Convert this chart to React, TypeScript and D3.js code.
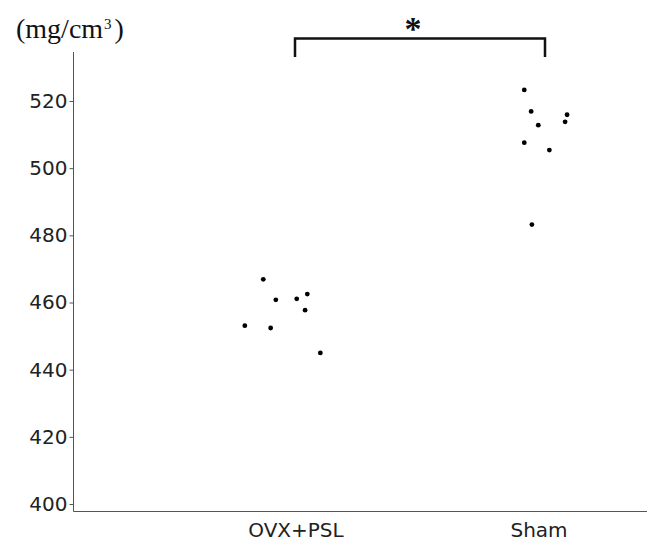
import React, { useEffect, useRef } from 'react';
import * as d3 from 'd3';

// groups and the measured bone density per animal
const groups = ['OVX+PSL', 'Sham'];
const ovxValues = [466.9, 460.8, 461.1, 462.5, 457.7, 453.1, 452.4, 445.0];
const shamValues = [523.3, 516.9, 515.9, 513.8, 512.8, 507.6, 505.4, 483.2];
// horizontal jitter, in fractions of the distance between groups
const ovxJitter = [-0.129, -0.078, 0.007, 0.05, 0.041, -0.204, -0.099, 0.103];
const shamJitter = [-0.068, -0.04, 0.106, 0.098, -0.011, -0.068, 0.034, -0.037];
const yTicks = [400, 420, 440, 460, 480, 500, 520];

const W = 649;
const H = 541;

const App = () => {
  const svgRef = useRef<SVGSVGElement>(null);

  useEffect(() => {
    const svg = d3.select(svgRef.current);
    svg.selectAll('*').remove();

    const axisLeft = 73.5;
    const axisBottom = 511.5;
    const axisRight = 647;

    const y = d3.scaleLinear().domain([400, 520]).range([504, 101]);
    const x = d3.scaleLinear().domain([0, 1]).range([295, 541]);

    const points = [
      ...ovxValues.map((v, i) => ({ g: 0, v, j: ovxJitter[i] })),
      ...shamValues.map((v, i) => ({ g: 1, v, j: shamJitter[i] })),
    ];

    // y axis
    const yAxis = svg.append('g')
      .attr('transform', `translate(${axisLeft},0)`)
      .call(d3.axisLeft(y).tickValues(yTicks).tickSize(4).tickPadding(2));
    yAxis.select('.domain').remove();
    yAxis.selectAll('.tick line').attr('stroke', '#555');
    yAxis.selectAll('.tick text')
      .attr('fill', '#222')
      .style('font-family', '"DejaVu Sans", Verdana, sans-serif')
      .style('font-size', '20px');

    svg.append('line')
      .attr('x1', axisLeft).attr('x2', axisLeft)
      .attr('y1', 52).attr('y2', axisBottom)
      .attr('stroke', '#555').attr('stroke-width', 1);

    // x axis
    svg.append('line')
      .attr('x1', axisLeft).attr('x2', axisRight)
      .attr('y1', axisBottom).attr('y2', axisBottom)
      .attr('stroke', '#555').attr('stroke-width', 1);

    svg.selectAll('.xlabel')
      .data(groups)
      .enter()
      .append('text')
      .attr('class', 'xlabel')
      .attr('x', (d, i) => x(i) + (i === 0 ? 1 : -2))
      .attr('y', 537)
      .attr('text-anchor', 'middle')
      .attr('fill', '#222')
      .style('font-family', '"DejaVu Sans", Verdana, sans-serif')
      .style('font-size', '20px')
      .text(d => d);

    // unit label
    const unit = svg.append('text')
      .attr('x', 16)
      .attr('y', 38)
      .attr('fill', '#111')
      .style('font-family', '"Liberation Serif", "Times New Roman", serif')
      .style('font-size', '28px');
    unit.append('tspan').text('(mg/cm');
    unit.append('tspan').attr('dx', 1).attr('dy', -9).style('font-size', '15px').text('3');
    unit.append('tspan').attr('dx', 3).attr('dy', 9).text(')');

    // points
    svg.selectAll('.dot')
      .data(points)
      .enter()
      .append('circle')
      .attr('class', 'dot')
      .attr('cx', d => x(d.g + d.j))
      .attr('cy', d => y(d.v))
      .attr('r', 2.4)
      .attr('fill', '#000');

    // significance bracket
    const by = 38.5;
    svg.append('path')
      .attr('d', `M${x(0)},57V${by}H${x(1) + 4}V57`)
      .attr('fill', 'none')
      .attr('stroke', '#111')
      .attr('stroke-width', 2.5);

    svg.append('text')
      .attr('x', 413)
      .attr('y', 40)
      .attr('text-anchor', 'middle')
      .attr('fill', '#111')
      .style('font-family', '"Liberation Serif", "Times New Roman", serif')
      .style('font-size', '34px')
      .style('font-weight', 'bold')
      .text('*');
  }, []);

  return (
    <svg
      ref={svgRef}
      width={W}
      height={H}
      style={{ position: 'absolute', left: 0, top: 0, background: '#fff' }}
    />
  );
};

export default App;
